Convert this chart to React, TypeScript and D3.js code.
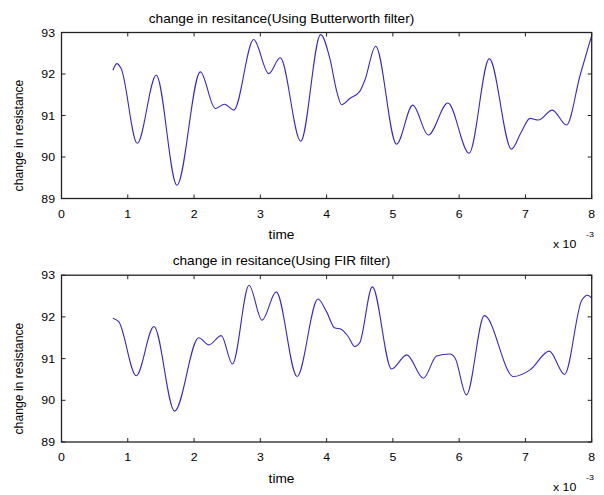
import React from "react";
import * as d3 from "d3";

const TIME_BW = [0.000775, 0.000835, 0.0009, 0.001143, 0.00143, 0.001742, 0.002095, 0.00232, 0.00246, 0.0026, 0.0029, 0.003127, 0.0033, 0.00361, 0.00391, 0.00405, 0.00415, 0.004225, 0.00435, 0.0045, 0.004577, 0.00474, 0.005055, 0.0053, 0.005535, 0.00583, 0.00615, 0.006455, 0.00679, 0.00694, 0.00707, 0.007195, 0.007405, 0.00762, 0.007825, 0.008];
const RES_BW = [92.09, 92.25, 92.13, 90.33, 91.97, 89.32, 92.05, 91.17, 91.27, 91.13, 92.83, 92.01, 92.39, 90.38, 92.95, 92.37, 91.6, 91.26, 91.41, 91.58, 91.85, 92.67, 90.31, 91.25, 90.53, 91.3, 90.09, 92.37, 90.19, 90.61, 90.93, 90.89, 91.13, 90.77, 91.97, 92.93];

const TIME_FIR = [0.000775, 0.000866, 0.001128, 0.001395, 0.001707, 0.00207, 0.002225, 0.00241, 0.00258, 0.00283, 0.003025, 0.00324, 0.003555, 0.00387, 0.004, 0.00412, 0.004225, 0.004325, 0.004426, 0.0045, 0.00469, 0.00498, 0.00521, 0.00546, 0.00566, 0.00586, 0.00594, 0.00611, 0.00638, 0.00682, 0.00707, 0.00736, 0.00759, 0.00785, 0.00794, 0.008];
const RES_FIR = [91.97, 91.88, 90.59, 91.77, 89.74, 91.5, 91.33, 91.55, 90.87, 92.76, 91.92, 92.6, 90.57, 92.43, 92.12, 91.74, 91.7, 91.53, 91.29, 91.38, 92.72, 90.75, 91.09, 90.53, 91.06, 91.11, 91.01, 90.13, 92.03, 90.57, 90.73, 91.18, 90.62, 92.4, 92.52, 92.45];

const X_TICKS = [0, 0.001, 0.002, 0.003, 0.004, 0.005, 0.006, 0.007, 0.008];
const Y_TICKS = [89, 90, 91, 92, 93];
const TITLES = ["change in resitance(Using Butterworth filter)", "change in resitance(Using FIR filter)"];
const X_LABEL = "time";
const Y_LABEL = "change in resistance";

const FONT = "'Liberation Sans', Arial, Helvetica, sans-serif";
const SX = 1.12;

function Txt({ x, y, size, anchor = "middle", children, baseline = "alphabetic" }: any) {
  return (
    <g transform={`translate(${x},${y}) scale(${SX},1)`}>
      <text x={0} y={0} fontSize={size} textAnchor={anchor} dominantBaseline={baseline} fontFamily={FONT} fill="#000">
        {children}
      </text>
    </g>
  );
}

function Panel({ top, bottom, title, times, values }: any) {
  const left = 61.5;
  const right = 591.7;
  const x = d3.scaleLinear().domain([0, 0.008]).range([left, right]);
  const y = d3.scaleLinear().domain([89, 93]).range([bottom, top]);
  const pts: [number, number][] = times.map((t: number, i: number) => [t, values[i]]);
  const line = d3
    .line<[number, number]>()
    .x((d) => x(d[0]))
    .y((d) => y(d[1]))
    .curve(d3.curveMonotoneX);
  const tl = 4;
  const midText = 281.5;
  return (
    <g>
      <Txt x={midText} y={top - 10} size={12.2}>{title}</Txt>
      <path d={line(pts) || ""} fill="none" stroke="#3a28c4" strokeWidth={1.1} />
      {X_TICKS.map((t) => (
        <g key={"x" + t}>
          <line x1={x(t)} x2={x(t)} y1={bottom} y2={bottom - tl} stroke="#222" strokeWidth={1} />
          <line x1={x(t)} x2={x(t)} y1={top} y2={top + tl} stroke="#222" strokeWidth={1} />
          <Txt x={x(t)} y={bottom + 19} size={11}>{d3.format("d")(Math.round(t * 1000))}</Txt>
        </g>
      ))}
      {Y_TICKS.map((v) => (
        <g key={"y" + v}>
          <line x1={left} x2={left + tl} y1={y(v)} y2={y(v)} stroke="#222" strokeWidth={1} />
          <line x1={right} x2={right - tl} y1={y(v)} y2={y(v)} stroke="#222" strokeWidth={1} />
          <Txt x={55} y={y(v) + 4} size={11} anchor="end">{String(v)}</Txt>
        </g>
      ))}
      <rect x={left} y={top} width={right - left} height={bottom - top} fill="none" stroke="#222" strokeWidth={1.3} />
      <Txt x={midText} y={bottom + 40.5} size={12.2}>{X_LABEL}</Txt>
      <Txt x={553} y={bottom + 49} size={11} anchor="start">x 10</Txt>
      <Txt x={586} y={bottom + 38} size={8} anchor="start">-3</Txt>
      <text
        transform={`translate(23,${(top + bottom) / 2 + 20}) rotate(-90)`}
        fontSize={12.2}
        textAnchor="middle"
        fontFamily={FONT}
        fill="#000"
      >
        {Y_LABEL}
      </text>
    </g>
  );
}

export default function App() {
  return (
    <svg width={604} height={495} style={{ position: "absolute", left: 0, top: 0, background: "#fff" }}>
      <rect x={0} y={0} width={604} height={495} fill="#fff" />
      <Panel top={32.5} bottom={198.5} title={TITLES[0]} times={TIME_BW} values={RES_BW} />
      <Panel top={275.2} bottom={442} title={TITLES[1]} times={TIME_FIR} values={RES_FIR} />
    </svg>
  );
}
